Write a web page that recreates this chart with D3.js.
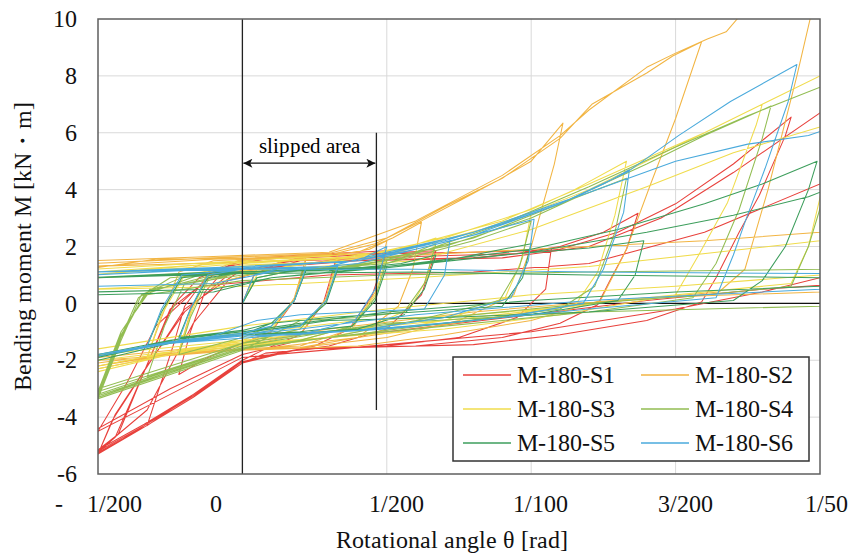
<!DOCTYPE html>
<html>
<head>
<meta charset="utf-8">
<script src="https://cdn.jsdelivr.net/npm/d3@7"></script>
<style>
  @font-face {
    font-family: 'RefSerif';
    src: local('Liberation Serif'), local('LiberationSerif'), local('LiberationSerif-Regular'), local('Liberation Serif Regular');
  }
</style>
</head>
<body style="margin:0">
<svg id="chart" width="850" height="554" font-family="Liberation Serif"></svg>
<script>
// rotational angle in 1/1000 rad, bending moment in kN*m
const seriesNames = ['M-180-S1', 'M-180-S2', 'M-180-S3', 'M-180-S4', 'M-180-S5', 'M-180-S6'];
const seriesColors = ['#e8413c', '#f2b543', '#f0dc4c', '#92bd52', '#3d9e5c', '#4aaadc'];

const s1 = [
  [0,0],[0.4,1.0],[1.2,1.4],[2.2,1.55],
  [1.8,0.1],[1.0,-1.0],[0,-1.4],[-1.2,-1.9],[-2.2,-2.5],
  [-1.8,-1.0],[-1.3,0.4],[-0.5,1.3],[1,1.6],[2.3,1.65],[3.3,1.75],
  [2.8,0.0],[2,-1.1],[0.8,-1.6],[0,-2.0],[-1.7,-3.2],[-3.3,-4.3],
  [-2.4,-1.5],[-2.0,-0.1],[-1.2,1.0],[0,1.55],[2,1.7],[4,1.8],[5,1.85],
  [4.5,0.3],[3.7,-0.9],[2.5,-1.5],[1,-1.8],[0,-2.1],[-1.7,-3.3],[-3.4,-4.35],[-5,-5.25],
  [-4.4,-4.7],[-3.4,-2.4],[-2.4,-0.05],[-1.5,0.9],[0,1.5],[3,1.7],[5.5,1.8],[6.7,1.85],
  [6.2,0.3],[5,-0.9],[3,-1.5],[1.5,-1.7],[0,-2.1],[-1.7,-3.25],[-3.4,-4.3],[-5,-5.3],
  [-4.4,-3.9],[-3.3,-2.2],[-2,-0.3],[-0.5,1.0],[2,1.6],[5,1.75],[8,1.8],[10,1.85],[10.7,1.95],
  [10.5,0.5],[9.5,-0.5],[7.5,-1.2],[5,-1.5],[2,-1.6],[0,-2.05],[-1.7,-3.2],[-3.4,-4.3],[-5,-5.2],
  [-3.3,-3.75],[-1.7,-0.7],[-0.5,0.8],[2,1.5],[6,1.65],[9.5,1.75],[11,2.0],[12.5,2.5],[13.7,3.17],
  [13.3,1.9],[12.7,0.75],[12.3,-0.05],[11,-0.7],[9,-1.2],[6,-1.5],[3,-1.55],[0.8,-1.75],[0,-2.1],[-1.7,-3.2],[-3.4,-4.25],[-5,-5.15],
  [-4.3,-4.6],[-2.5,-0.2],[-1,1.0],[3,1.5],[8,1.6],[11,1.9],[13,2.5],[15,3.5],[17,4.9],[19,6.55],
  [18.8,5.9],[17.9,3.8],[17.2,2.5],[16.4,0.9],[15.9,0.05],[14,-0.6],[11,-1.1],[8,-1.45],[4,-1.55],[2,-1.6],[0,-2.1],[-1.7,-3.3],[-3.4,-4.35],[-5,-5.3],
  [-4.5,-4.1],[-2,-0.2],[0,1.2],[4,1.5],[9,1.6],[12,2.0],[14.5,3.0],[17,4.6],[20,6.7],[22,8.0],
  [21.3,5],[20.5,2.0],[20,0.9],[18,0.4],[15,-0.2],[10,-1.0],[5,-1.45],[0,-1.9],[-2.5,-3.2],[-5,-4.5],
  [-4,-2.8],[-3,-0.8],[-1.5,0.6],[3,1.0],[8,1.1],[12,1.4],[16,2.5],[20,4.2],[22,5.5],
  [21.5,3],[21,0.7],[18,0.5],[14,0.1],[10,-0.4],[5,-1.0],[2,-1.3],[0,-1.8],[-2.5,-3.0],[-5,-4.4]
];

const s2 = [
  [0,0],[0.5,1.2],[1.5,1.5],[2.2,1.6],
  [1.8,0.2],[1,-1.0],[0,-1.4],[-2.2,-1.7],
  [-1.8,-0.3],[-1.2,1.1],[0,1.55],[2,1.6],[3.3,1.7],
  [2.9,0.2],[2,-1.1],[0,-1.5],[-2,-1.7],[-3.3,-1.9],
  [-2.8,-0.5],[-2.2,1.1],[-1,1.5],[1,1.6],[3,1.65],[4.4,1.9],[5,2.2],
  [4.6,0.4],[3.8,-0.9],[2,-1.5],[0,-1.6],[-2.5,-1.75],[-5,-2.1],[-6.5,-2.4],
  [-6,-0.6],[-5.4,1.2],[-3,1.55],[1,1.6],[4,1.8],[5.2,2.3],[6.2,2.85],
  [5.9,1.2],[5.4,-0.1],[4,-1.2],[2,-1.55],[0,-1.6],[-2.5,-1.75],[-5,-2.2],[-6.5,-2.5],
  [-6,-0.4],[-5.3,1.3],[-1,1.55],[3,1.7],[4.6,2.1],[6.2,2.9],[7.5,3.6],[8.8,4.3],[10,5.0],[11.1,6.34],
  [10.8,4.9],[10,2.0],[9.4,0.3],[7.5,-0.6],[5,-1.2],[2,-1.55],[0,-1.6],[-2.5,-1.8],[-5,-2.3],[-6.5,-2.6],
  [-6,-0.5],[-5.2,1.4],[-1,1.6],[3,1.75],[5,2.3],[7,3.4],[9,4.4],[11,5.8],[12.1,7.0],[14,8.1],[14.9,8.7],[15.9,9.2],
  [15.0,6.5],[14.1,4.1],[13.3,1.9],[12.4,0.1],[10,-0.6],[7,-1.1],[4,-1.5],[0,-1.65],[-2.5,-1.8],[-5,-2.2],[-6.5,-2.5],
  [-6,-0.3],[-5.2,1.5],[-1,1.65],[3,1.8],[6,2.9],[9,4.5],[11,5.9],[12,6.8],[14,8.3],[15,8.8],[16.1,9.3],[16.75,9.55],[17.3,10.2],[20,11.5],
  [19.2,8],[18.2,4],[17.4,1.2],[16.5,0.4],[12,0.0],[8,-0.6],[4,-1.2],[1,-1.55],[-2,-1.8],[-5,-2.0],[-6.5,-2.3],
  [-6,-0.2],[-5.2,1.3],[0,1.45],[4,1.6],[10,1.9],[16,2.2],[20,2.5],[23,3.0],
  [22.5,1.0],[21,0.5],[20,0.4],[14,0.2],[8,-0.3],[3,-0.9],[0,-1.4],[-5,-1.9],[-6.5,-2.1]
];

const s3 = [
  [0,0],[0.5,1.0],[1.5,1.3],[2.2,1.4],
  [1.8,0.1],[1,-0.9],[0,-1.3],[-2.2,-1.7],
  [-1.8,-0.4],[-1.2,1.0],[0,1.3],[2,1.4],[3.3,1.5],
  [2.9,0.1],[2,-0.9],[0,-1.35],[-2,-1.6],[-3.3,-1.9],
  [-2.8,-0.4],[-2,1.0],[0,1.35],[3,1.45],[5,1.7],
  [4.6,0.3],[3.8,-0.8],[2,-1.3],[0,-1.45],[-2.5,-1.7],[-5,-2.2],[-6.5,-2.5],
  [-6,-0.6],[-5.3,0.5],[-1,0.7],[1,1.2],[3,1.5],[5.5,1.9],[6.7,2.3],
  [6.4,0.9],[5.8,-0.2],[4,-1.0],[2,-1.35],[0,-1.5],[-2.5,-1.8],[-5,-2.4],[-6.5,-2.7],
  [-6,-0.7],[-5.2,1.0],[-1,1.4],[3,1.55],[6,2.0],[8,2.5],[10,3.2],
  [9.7,1.6],[9.1,0.2],[7,-0.6],[4,-1.1],[1,-1.4],[-2,-1.7],[-5,-2.3],[-6.5,-2.6],
  [-6,-0.5],[-5.2,1.1],[0,1.45],[4,1.65],[7,2.3],[10,3.3],[11.5,4.0],[13.3,5.0],
  [12.9,3.1],[12.3,1.1],[11.5,-0.1],[8,-0.4],[4,-0.6],[1.5,-0.9],[0,-1.45],[-2.5,-1.7],[-5,-2.2],[-6.5,-2.5],
  [-6,-0.4],[-5.2,1.2],[0,1.5],[5,1.8],[9,2.9],[12,4.2],[14,5.1],[16,6.0],[18,7.0],
  [17.8,6.3],[16.8,3.55],[15.8,1.7],[15,0.3],[11,-0.4],[7,-0.9],[3,-1.2],[0,-1.4],[-5,-2.0],[-6.5,-2.3],
  [-6,-0.5],[-5.2,1.0],[0,1.4],[5,1.7],[9,2.8],[12,4.0],[15,5.5],[18,7.0],[20,8.0],[21,8.6],
  [20.3,5.0],[19.6,2.0],[19,0.7],[14,0.2],[8,-0.5],[3,-1.0],[0,-1.3],[-5,-1.8],[-6.5,-2.0],
  [-6,-0.3],[-5,0.9],[1,1.2],[6,1.5],[10,2.6],[14,4.1],[17,5.3],[20,6.2],[21,6.6],
  [20.5,3.2],[20,1.0],[15,0.6],[10,0.3],[5,-0.2],[0,-0.8],[-5,-1.6],[-6.5,-1.8],
  [-6,0.2],[-5,0.5],[0,0.6],[6,0.9],[12,1.3],[20,2.2],[22,2.5]
];

const s4 = [
  [0,0],[0.5,0.9],[1.5,1.1],[2.2,1.2],
  [1.8,0.1],[1,-0.8],[0,-1.2],[-2.2,-1.8],
  [-1.8,-0.5],[-1.2,0.8],[0,1.1],[2,1.2],[3.3,1.3],
  [2.9,0.1],[2,-0.9],[0,-1.4],[-1.5,-2.0],[-3.3,-2.6],
  [-2.7,-0.8],[-2.0,0.7],[0,1.1],[3,1.2],[5,1.5],
  [4.6,0.2],[3.8,-0.8],[2,-1.3],[0,-1.6],[-2.5,-2.45],[-5,-3.3],
  [-4.3,-1.4],[-3.6,0.2],[-2.5,0.9],[0,1.1],[3,1.2],[5.5,1.6],[6.7,2.1],
  [6.3,0.7],[5.6,-0.3],[4,-0.5],[2,-0.6],[0,-1.65],[-2.5,-2.5],[-5,-3.35],
  [-4.2,-1.3],[-3.5,0.3],[-2,0.95],[1,1.1],[5,1.4],[8,2.2],[10,2.9],
  [9.6,1.3],[8.9,0.1],[6,-0.6],[3,-1.2],[0,-1.6],[-2.5,-2.4],[-5,-3.25],
  [-4.2,-1.2],[-3.4,0.3],[-1.5,1.0],[3,1.2],[7,2.0],[10,3.0],[11.5,3.7],[13.3,4.4],
  [12.9,2.5],[12.2,0.6],[11,-0.2],[7,-0.7],[3,-1.2],[0,-1.6],[-2.5,-2.4],[-5,-3.3],
  [-4.2,-1.1],[-3.3,0.4],[-1,1.0],[4,1.3],[8,2.3],[11,3.5],[14,4.9],[16,5.9],[18.3,6.94],
  [18,5.8],[17.2,3.3],[16.4,1.4],[15.6,0.2],[12,-0.3],[7,-0.8],[3,-1.2],[0,-1.55],[-2.5,-2.35],[-5,-3.2],
  [-4.2,-1.0],[-3.2,0.5],[0,1.0],[5,1.4],[9,2.8],[12,4.1],[15,5.5],[17.5,6.6],[20,7.6],[21,8.1],
  [20.5,5],[19.6,2],[19,0.6],[16,0.3],[12,0.0],[7,-0.5],[3,-1.0],[0,-1.5],[-2.5,-2.3],[-5,-3.1],
  [-4.2,-1.0],[-3.3,0.3],[0,0.8],[5,1.0],[12,1.1],[20,1.2],[22,1.6],
  [21.5,0.4],[20,-0.1],[12,-0.3],[5,-0.7],[0,-1.4],[-2.5,-2.2],[-5,-3.0]
];

const s5 = [
  [0,0],[0.5,0.9],[1.5,1.1],[2.2,1.15],
  [1.8,0.1],[1,-0.7],[0,-0.95],[-2.2,-1.2],
  [-1.8,-0.2],[-1.2,0.9],[0,1.1],[2,1.15],[3.3,1.2],
  [2.9,0.0],[2,-0.8],[0,-1.0],[-2,-1.2],[-3.3,-1.5],
  [-2.8,-0.3],[-2.1,0.9],[0,1.1],[3,1.2],[5,1.3],
  [4.6,0.1],[3.8,-0.8],[2,-1.0],[0,-1.1],[-2.5,-1.35],[-5,-1.9],[-6.5,-2.1],
  [-6,-0.4],[-5.3,0.9],[-1,1.1],[3,1.15],[5.5,1.4],[6.7,1.7],
  [6.3,0.5],[5.6,-0.4],[4,-0.9],[2,-1.05],[0,-1.1],[-2.5,-1.4],[-5,-2.0],[-6.5,-2.2],
  [-6,-0.5],[-5.2,0.4],[-1,0.5],[1,0.9],[4,1.2],[7,1.5],[9,1.9],[10,2.1],
  [9.7,0.9],[9,-0.1],[6,-0.3],[3,-0.5],[1,-0.7],[0,-1.1],[-2.5,-1.35],[-5,-1.9],[-6.5,-2.1],
  [-6,-0.4],[-5.2,0.9],[0,1.1],[5,1.25],[9,1.7],[12,1.95],[13.9,2.2],
  [13.6,1.0],[13,0.1],[10,-0.4],[6,-0.8],[3,-1.0],[0,-1.1],[-2.5,-1.4],[-5,-2.0],[-6.5,-2.2],
  [-6,-0.4],[-5.2,0.9],[0,1.1],[5,1.3],[10,1.9],[13,2.6],[16,3.5],[18,4.2],[19.9,5.0],
  [19.6,4.0],[18.8,2.0],[18,0.8],[17,0.1],[12,-0.3],[7,-0.5],[3,-0.6],[0,-1.05],[-2.5,-1.35],[-5,-1.85],[-6.5,-2.0],
  [-6,-0.3],[-5.2,0.3],[-1,0.4],[1,0.9],[5,1.25],[10,1.8],[14,2.5],[17,3.1],[19.6,3.75],[21,4.3],
  [21.3,3],[20.5,0.9],[20,0.6],[15,0.4],[10,0.1],[5,-0.3],[2,-0.7],[0,-1.0],[-2.5,-1.3],[-5,-1.8],[-6.5,-2.0],
  [-6,-0.2],[-5.2,0.9],[0,1.05],[6,1.1],[12,1.0],[20,0.9],[22,1.1]
];

const s6 = [
  [0,0],[0.4,1.0],[1.2,1.2],[2.2,1.25],
  [1.8,0.1],[1,-0.8],[0,-1.05],[-2.2,-1.3],
  [-1.8,-0.2],[-1.2,1.0],[0,1.2],[2,1.25],[3.3,1.3],
  [2.9,0.1],[2,-0.8],[0,-1.1],[-2,-1.3],[-3.3,-1.5],
  [-2.8,-0.2],[-2.1,1.0],[0,1.2],[3,1.3],[4.2,1.6],[5,2.0],
  [4.6,0.5],[3.9,-0.6],[2,-1.1],[0,-1.15],[-2.5,-1.35],[-5,-1.8],[-6.5,-2.0],
  [-6,-0.3],[-5.3,1.0],[-1,1.2],[3,1.3],[5,1.8],[6.3,2.1],[7.2,2.3],
  [7,1.0],[6.3,-0.2],[4,-0.3],[2,-0.4],[0.5,-0.6],[-1,-1.15],[-2.5,-1.4],[-5,-1.85],[-6.5,-2.1],
  [-6,-0.4],[-5.2,0.6],[-1,0.7],[1,1.1],[4,1.4],[6,1.9],[8,2.4],[9.5,2.8],[10.1,2.96],
  [9.9,1.5],[9.3,0.2],[7,-0.5],[4,-0.95],[1,-1.15],[-2.5,-1.4],[-5,-1.8],[-6.5,-2.0],
  [-6,-0.3],[-5.2,1.0],[0,1.25],[4,1.5],[7,2.2],[9,2.8],[11,3.5],[12.5,4.2],[13.4,4.7],
  [13.2,3.2],[12.5,1.2],[11.8,0.0],[9,-0.5],[5,-0.9],[1,-1.15],[-2.5,-1.4],[-5,-1.85],[-6.5,-2.1],
  [-6,-0.3],[-5.2,1.1],[0,1.3],[4,1.5],[6,1.9],[8,2.4],[11,3.5],[13.3,4.6],[15.1,5.9],[16.9,7.1],[19.2,8.4],
  [18.9,7.1],[18.1,4.75],[17.4,2.85],[17,1.7],[16.4,0.2],[12,-0.2],[8,-0.6],[4,-0.95],[0,-1.15],[-2.5,-1.4],[-5,-1.8],[-6.5,-2.0],
  [-6,-0.2],[-5.2,1.1],[0,1.25],[4,1.5],[8,2.5],[12,3.9],[15,5.0],[17.5,5.6],[19.6,5.9],[21,6.4],
  [21.2,5],[20.5,2],[20,0.5],[16,0.3],[12,0.1],[6,-0.4],[2,-0.9],[0,-1.1],[-2.5,-1.35],[-5,-1.8],[-6.5,-2.0],
  [-6,-0.2],[-5.2,1.1],[0,1.2],[6,1.2],[12,1.1],[20,1.05],[22,1.2]
];

const seriesData = [s1, s2, s3, s4, s5, s6];

const yTicks = [-6, -4, -2, 0, 2, 4, 6, 8, 10];
const xTicks = [-5, 0, 5, 10, 15, 20];
const xTickLabels = ['- 1/200', '0', '1/200', '1/100', '3/200', '1/50'];

// slipped area bounds (1/1000 rad)
const slipStart = 0;
const slipEnd = 4.64;

const margin = {top: 19, right: 30, bottom: 80, left: 98};
const W = 850, H = 554;
const width = W - margin.left - margin.right;
const height = H - margin.top - margin.bottom;
const serif = 'RefSerif, "Liberation Serif", Tinos, "Times New Roman", serif';

// Excel '# ??/???' style padding of the angle labels
function padLabel(label) {
  if (label === '0') return '0' + ' '.repeat(9);
  if (label.startsWith('-')) return '-    ' + label.slice(1).trim();
  let den = label.split('/')[1];
  return ' '.repeat(den.length) + label;
}

const svg = d3.select('#chart');

svg.append('rect').attr('width', W).attr('height', H).attr('fill', '#fff');

const chart = svg.append('g')
  .attr('transform', `translate(${margin.left},${margin.top})`);

const xScale = d3.scaleLinear().domain([-5, 20]).range([0, width]);
const yScale = d3.scaleLinear().domain([-6, 10]).range([height, 0]);

// grid
chart.append('g').selectAll('line')
  .data(yTicks.filter(d => d > -6 && d < 10))
  .join('line')
    .attr('x1', 0).attr('x2', width)
    .attr('y1', d => yScale(d)).attr('y2', d => yScale(d))
    .attr('stroke', '#d9d9d9').attr('stroke-width', 1);
chart.append('g').selectAll('line')
  .data(xTicks.filter(d => d > -5 && d < 20))
  .join('line')
    .attr('x1', d => xScale(d)).attr('x2', d => xScale(d))
    .attr('y1', 0).attr('y2', height)
    .attr('stroke', '#d9d9d9').attr('stroke-width', 1);

// zero line
chart.append('line')
  .attr('x1', 0).attr('x2', width)
  .attr('y1', yScale(0)).attr('y2', yScale(0))
  .attr('stroke', '#111').attr('stroke-width', 1.2);

chart.append('defs').append('clipPath')
  .attr('id', 'plot_clip')
  .append('rect')
    .attr('width', width)
    .attr('height', height);

const line = d3.line()
  .x(d => xScale(d[0]))
  .y(d => yScale(d[1]));

chart.append('g')
  .attr('clip-path', 'url(#plot_clip)')
  .selectAll('path')
  .data(seriesData)
  .join('path')
    .attr('d', line)
    .attr('fill', 'none')
    .attr('stroke', (d, i) => seriesColors[i])
    .attr('stroke-width', 1.05)
    .attr('stroke-linejoin', 'round');

// slipped area annotation
const defs = svg.append('defs');
['start', 'end'].forEach(k => {
  defs.append('marker')
    .attr('id', 'arrow-' + k)
    .attr('viewBox', '0 0 10 10')
    .attr('refX', 10).attr('refY', 5)
    .attr('markerWidth', 10).attr('markerHeight', 9)
    .attr('markerUnits', 'userSpaceOnUse')
    .attr('orient', k === 'end' ? 'auto' : 'auto-start-reverse')
    .append('path')
      .attr('d', 'M0,0 L10,5 L0,10 L2.5,5 Z')
      .attr('fill', '#111');
});

chart.append('line')
  .attr('x1', xScale(slipStart)).attr('x2', xScale(slipStart))
  .attr('y1', 0).attr('y2', height)
  .attr('stroke', '#222').attr('stroke-width', 1.3);
chart.append('line')
  .attr('x1', xScale(slipEnd)).attr('x2', xScale(slipEnd))
  .attr('y1', yScale(6.0)).attr('y2', yScale(-3.75))
  .attr('stroke', '#222').attr('stroke-width', 1.3);
chart.append('line')
  .attr('x1', xScale(slipStart) + 1).attr('x2', xScale(slipEnd) - 1)
  .attr('y1', yScale(4.93)).attr('y2', yScale(4.93))
  .attr('stroke', '#111').attr('stroke-width', 1.3)
  .attr('marker-start', 'url(#arrow-start)')
  .attr('marker-end', 'url(#arrow-end)');
chart.append('text')
  .attr('x', xScale((slipStart + slipEnd) / 2))
  .attr('y', yScale(5.29))
  .attr('text-anchor', 'middle')
  .attr('font-family', 'Liberation Serif')
  .style('font-family', serif)
  .style('font-size', '21px')
  .text('slipped area');

// plot border
chart.append('rect')
  .attr('width', width).attr('height', height)
  .attr('fill', 'none')
  .attr('stroke', '#5f5f5f').attr('stroke-width', 1.5);

// axes
const yAxis = d3.axisLeft(yScale).tickValues(yTicks).tickSize(0).tickPadding(21)
  .tickFormat(d => String(d));
chart.append('g').call(yAxis)
  .attr('font-family', 'Liberation Serif')
  .call(g => g.select('.domain').remove())
  .selectAll('text')
    .style('font-size', '24px')
    .style('font-family', serif)
    .attr('fill', '#111');

const xAxis = d3.axisBottom(xScale).tickValues(xTicks).tickSize(0).tickPadding(21)
  .tickFormat((d, i) => padLabel(xTickLabels[i]));
chart.append('g')
  .attr('transform', `translate(0,${height})`)
  .call(xAxis)
  .attr('font-family', 'Liberation Serif')
  .call(g => g.select('.domain').remove())
  .selectAll('text')
    .style('font-size', '24px')
    .style('font-family', serif)
    .style('white-space', 'pre')
    .attr('fill', '#111');

// axis titles
svg.append('text')
  .attr('x', 452).attr('y', 548)
  .attr('text-anchor', 'middle')
  .style('font-family', serif)
  .style('font-size', '24px')
  .attr('fill', '#111')
  .text('Rotational angle θ [rad]');
svg.append('text')
  .attr('transform', `translate(31,${margin.top + height / 2}) rotate(-90)`)
  .attr('text-anchor', 'middle')
  .style('font-family', serif)
  .style('font-size', '24px')
  .attr('fill', '#111')
  .text('Bending moment M [kN・m]');

// legend
const legend = chart.append('g')
  .attr('transform', `translate(355,338)`);
legend.append('rect')
  .attr('width', 356).attr('height', 104)
  .attr('fill', '#fff')
  .attr('stroke', '#333').attr('stroke-width', 1.5);
const items = legend.selectAll('g.item')
  .data(seriesNames)
  .join('g')
    .attr('class', 'item')
    .attr('transform', (d, i) => `translate(${(i % 2) * 178},${18 + Math.floor(i / 2) * 34})`);
items.append('line')
  .attr('x1', 10).attr('x2', 58)
  .attr('stroke', (d, i) => seriesColors[i])
  .attr('stroke-width', 1.3);
items.append('text')
  .attr('x', 64)
  .attr('dy', '0.35em')
  .style('font-family', serif)
  .style('font-size', '24px')
  .attr('fill', '#111')
  .text(d => d);
</script>
</body>
</html>
